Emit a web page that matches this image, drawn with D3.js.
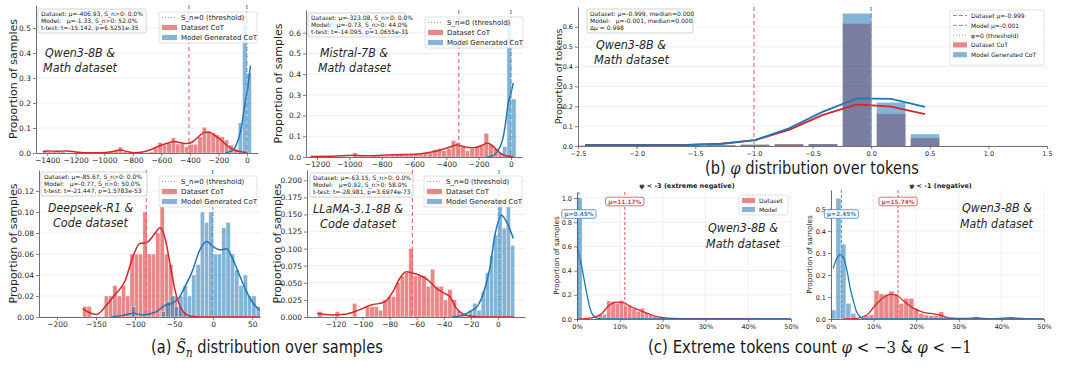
<!DOCTYPE html>
<html>
<head>
<meta charset="utf-8">
<script src="https://cdn.jsdelivr.net/npm/d3@7"></script>
<style>
  body { margin: 0; background: #fff; }
  svg text { font-family: "DejaVu Sans", sans-serif; }
</style>
</head>
<body>
<svg id="fig" width="1080" height="373"></svg>
<script>
// ---------- (a) S_n distributions : histogram bins (start, width, heights) + kde points ----------
const qwenRedStart = -1430, qwenRedBin = 31;
const qwenRed = [0.01, 0.005, 0.005, 0.007, 0.007, 0, 0, 0, 0, 0, 0, 0, 0, 0, 0, 0.005, 0.01, 0.024, 0.005, 0,
  0, 0, 0, 0.003, 0.005, 0.02, 0.043, 0.032, 0.04, 0.061, 0.036, 0.04, 0.025, 0.035, 0.035, 0.065, 0.103, 0.085,
  0.08, 0.072, 0.065, 0.052, 0.032, 0.015, 0.008];
const qwenBlueStart = -62, qwenBlueBin = 31;
const qwenBlue = [0.12, 0.55, 0.32];
const qwenRedKde = [[-1430, 0.006], [-1400, 0.008], [-1330, 0.007], [-1262, 0.008], [-1200, 0.004], [-1145, 0.001],
  [-1028, 0.001], [-940, 0.006], [-887, 0.012], [-840, 0.006], [-793, 0.001], [-722, 0.005], [-680, 0.012],
  [-628, 0.025], [-558, 0.039], [-511, 0.046], [-464, 0.041], [-420, 0.038], [-380, 0.045], [-340, 0.065],
  [-300, 0.082], [-270, 0.084], [-230, 0.072], [-183, 0.052], [-136, 0.028], [-89, 0.012], [-42, 0.005], [5, 0.002]];
const qwenBlueKde = [[-150, 0], [-136, 0.003], [-110, 0.008], [-89, 0.018], [-61, 0.055], [-40, 0.1], [-23, 0.165],
  [-7, 0.22], [5, 0.26], [24, 0.35]];
const qwenMeans = [-406.93, -1.33];
const qwenStats = ['Dataset: μ=-406.93, S_n>0: 0.0%', 'Model:   μ=-1.33, S_n>0: 52.0%', 't-test: t=-15.142, p=6.5251e-35'];

const mistralRedStart = -1240, mistralRedBin = 29;
const mistralRed = [0.005, 0, 0, 0, 0, 0, 0, 0, 0, 0.02, 0.005, 0, 0, 0.005, 0.01, 0.005, 0.005, 0.01, 0.015, 0.015,
  0.01, 0.01, 0.015, 0.015, 0.02, 0.02, 0.035, 0.04, 0.03, 0.04, 0.08, 0.07, 0.05, 0.03, 0.04, 0.05, 0.06, 0.115,
  0.06, 0.04, 0.02, 0.005, 0];
const mistralBlueStart = -53, mistralBlueBin = 28;
const mistralBlue = [0.05, 0.66, 0.28];
const mistralRedKde = [[-1240, 0.003], [-1100, 0.004], [-983, 0.008], [-905, 0.006], [-800, 0.008], [-698, 0.011],
  [-574, 0.015], [-492, 0.024], [-430, 0.035], [-378, 0.048], [-337, 0.058], [-300, 0.052], [-260, 0.046],
  [-233, 0.045], [-182, 0.055], [-145, 0.068], [-109, 0.05], [-78, 0.026], [-37, 0.007], [14, 0.002]];
const mistralBlueKde = [[-150, 0], [-120, 0.004], [-99, 0.013], [-68, 0.048], [-50, 0.09], [-37, 0.145], [-17, 0.26],
  [0, 0.31], [14, 0.358]];
const mistralMeans = [-323.08, -0.73];
const mistralStats = ['Dataset: μ=-323.08, S_n>0: 0.0%', 'Model:   μ=-0.73, S_n>0: 44.0%', 't-test: t=-14.095, p=1.0655e-31'];

const deepseekRedStart = -167, deepseekRedBin = 5.5;
const deepseekRed = [0.01, 0.01, 0, 0, 0, 0.02, 0.02, 0.03, 0.02, 0.03, 0.02, 0.06, 0.06, 0.06, 0.10, 0.06, 0.06,
  0.08, 0.105, 0.06, 0.05, 0.02, 0.01, 0.005];
const deepseekBlueStart = -104.5, deepseekBlueBin = 5.5;
const deepseekBlue = [0.01, 0, 0, 0, 0, 0, 0, 0.005, 0.015, 0.02, 0.01, 0.02, 0.03, 0.02, 0.04, 0.05, 0.10, 0.09,
  0.10, 0.06, 0.06, 0.085, 0.09, 0.06, 0.045, 0.03, 0.04, 0.02, 0.02, 0.01];
const deepseekRedKde = [[-167, 0.008], [-158, 0.004], [-149, 0.0025], [-138, 0.01], [-126, 0.021], [-113, 0.034],
  [-102, 0.059], [-94, 0.07], [-85, 0.071], [-76, 0.078], [-68, 0.085], [-62, 0.076], [-55, 0.05], [-49, 0.026],
  [-40, 0.007], [-30, 0.001], [-15, 0], [60, 0]];
const deepseekBlueKde = [[-130, 0], [-113, 0.002], [-102, 0.0035], [-91, 0.002], [-74, 0.0045], [-62, 0.011],
  [-53, 0.013], [-44, 0.018], [-36, 0.029], [-27, 0.043], [-17, 0.064], [-8, 0.072], [0, 0.067], [9, 0.064],
  [17.5, 0.065], [24, 0.057], [32, 0.043], [41, 0.027], [49.5, 0.015], [60, 0.006]];
const deepseekMeans = [-85.67, -0.77];
const deepseekStats = ['Dataset: μ=-85.67, S_n>0: 0.0%', 'Model:   μ=-0.77, S_n>0: 50.0%', 't-test: t=-21.447, p=1.5783e-53'];

const llamaRedStart = -133, llamaRedBin = 3.2;
const llamaRed = [0.008, 0, 0, 0, 0.008, 0, 0, 0, 0.02, 0, 0, 0.015, 0.015, 0.015, 0.01, 0.025, 0.03, 0.03, 0.05,
  0.06, 0.065, 0.1, 0.06, 0.06, 0.06, 0.045, 0.07, 0.045, 0.045, 0.025, 0.04, 0.025, 0.01, 0.005];
const llamaBlueStart = -21.7, llamaBlueBin = 3.1;
const llamaBlue = [0.01, 0.02, 0.01, 0.037, 0.065, 0.09, 0.12, 0.17, 0.13, 0.17, 0.105];
const llamaRedKde = [[-133.6, 0.005], [-123, 0.003], [-113, 0.004], [-103, 0.01], [-93.6, 0.0175], [-83.7, 0.022],
  [-77.5, 0.037], [-72.6, 0.056], [-67.7, 0.066], [-62.7, 0.064], [-57.8, 0.061], [-51.6, 0.054], [-45.4, 0.042],
  [-39.3, 0.0345], [-35.6, 0.03], [-30.6, 0.0126], [-25.7, 0.004], [-19.5, 0.001], [-12, 0], [12, 0]];
const llamaBlueKde = [[-34, 0], [-27, 0.002], [-20.7, 0.008], [-14.6, 0.0175], [-9.6, 0.042], [-6, 0.071],
  [-2.2, 0.12], [2.7, 0.149], [6.4, 0.139], [11.4, 0.115]];
const llamaMeans = [-63.15, 0.92];
const llamaStats = ['Dataset: μ=-63.15, S_n>0: 0.0%', 'Model:   μ=0.92, S_n>0: 58.0%', 't-test: t=-28.981, p=3.6974e-73'];

// ---------- (b) phi over tokens ----------
const phiCenters = [-2.44, -2.15, -1.86, -1.57, -1.28, -0.99, -0.70, -0.41, -0.12, 0.17, 0.46];
const phiBarWidth = 0.245;
const phiRedBars = [0.001, 0.001, 0.002, 0.002, 0.004, 0.007, 0.01, 0.01, 0.616, 0.162, 0.039];
const phiBlueBars = [0.001, 0.001, 0.001, 0.002, 0.003, 0.006, 0.008, 0.01, 0.667, 0.219, 0.059];
const phiRedLine = [0.005, 0.005, 0.005, 0.006, 0.012, 0.03, 0.081, 0.157, 0.21, 0.198, 0.16];
const phiBlueLine = [0.004, 0.004, 0.004, 0.005, 0.01, 0.03, 0.089, 0.173, 0.24, 0.237, 0.197];
const phiMeans = [-0.999, -0.001];
const phiStats = ['Dataset: μ=-0.999, median=0.000', 'Model:   μ=-0.001, median=0.000', 'Δμ = 0.998'];

// ---------- (c) extreme token share per sample ----------
const ext3RedStart = 0.05, ext3RedBin = 0.0098;
const ext3Red = [0.04, 0.04, 0.15, 0.145, 0.13, 0.155, 0.115, 0.11, 0.09, 0.065, 0.09, 0.05, 0.04, 0.025, 0.015,
  0.01, 0.01, 0.005, 0.005, 0.005, 0.003];
const ext3BlueStart = 0, ext3BlueBin = 0.012;
const ext3Blue = [1.0];
const ext3RedKde = [[0.003, 0], [0.034, 0.01], [0.058, 0.045], [0.073, 0.107], [0.093, 0.14], [0.108, 0.135],
  [0.128, 0.099], [0.147, 0.072], [0.167, 0.044], [0.19, 0.017], [0.213, 0.006], [0.25, 0.003], [0.284, 0.002],
  [0.32, 0.002], [0.348, 0.003], [0.4, 0.002], [0.45, 0.001], [0.5, 0]];
const ext3BlueKde = [[0, 0.598], [0.01, 0.45], [0.022, 0.226], [0.03, 0.094], [0.037, 0.033], [0.049, 0.006],
  [0.065, 0], [0.5, 0]];
const ext3Means = [0.1117, 0.0045];

const ext1RedStart = 0.0776, ext1RedBin = 0.0117;
const ext1Red = [0.015, 0.02, 0.129, 0.114, 0.112, 0.127, 0.114, 0.071, 0.094, 0.094, 0.048, 0.026, 0.018, 0.015,
  0.015, 0.033, 0.011, 0.008, 0.005, 0, 0, 0, 0.01, 0, 0, 0, 0, 0, 0, 0.01];
const ext1BlueStart = 0, ext1BlueBin = 0.0117;
const ext1Blue = [0.041, 0.549, 0.34, 0.071, 0.026];
const ext1RedKde = [[0.029, 0], [0.06, 0.003], [0.084, 0.018], [0.103, 0.06], [0.123, 0.098], [0.139, 0.112],
  [0.155, 0.106], [0.174, 0.076], [0.194, 0.048], [0.217, 0.03], [0.241, 0.023], [0.26, 0.015], [0.28, 0.004],
  [0.319, 0.003], [0.342, 0.005], [0.374, 0.001], [0.417, 0.005], [0.476, 0], [0.5, 0]];
const ext1BlueKde = [[0.005, 0.23], [0.014, 0.276], [0.022, 0.292], [0.03, 0.276], [0.038, 0.215], [0.045, 0.14],
  [0.053, 0.079], [0.06, 0.033], [0.068, 0.011], [0.08, 0], [0.5, 0]];
const ext1Means = [0.1574, 0.0245];

// tick values
const qwenXTicks = [-1400, -1200, -1000, -800, -600, -400, -200, 0];
const qwenYTicks = [0, 0.1, 0.2, 0.3, 0.4, 0.5];
const mistralXTicks = [-1200, -1000, -800, -600, -400, -200, 0];
const mistralYTicks = [0, 0.1, 0.2, 0.3, 0.4, 0.5, 0.6];
const deepseekXTicks = [-200, -150, -100, -50, 0, 50];
const deepseekYTicks = [0, 0.02, 0.04, 0.06, 0.08, 0.10, 0.12];
const llamaXTicks = [-120, -100, -80, -60, -40, -20, 0];
const llamaYTicks = [0, 0.025, 0.05, 0.075, 0.1, 0.125, 0.15, 0.175, 0.2];
const phiXTicks = [-2.5, -2.0, -1.5, -1.0, -0.5, 0.0, 0.5, 1.0, 1.5];
const phiYTicks = [0, 0.1, 0.2, 0.3, 0.4, 0.5, 0.6];
const extXTicks = [0, 0.1, 0.2, 0.3, 0.4, 0.5];
const ext3YTicks = [0, 0.2, 0.4, 0.6, 0.8, 1.0];
const ext1YTicks = [0, 0.1, 0.2, 0.3, 0.4, 0.5];

const RED = '#d62728', BLUE = '#1f77b4';
const RED_DASH = '#e4676a', BLUE_DASH = '#5b9dd3';

const svg = d3.select('#fig');
let clipN = 0;

function setup(o) {
  const x = d3.scaleLinear().domain(o.xdom).range([o.x0, o.x1]);
  const y = d3.scaleLinear().domain(o.ydom).range([o.y1, o.y0]);
  const g = svg.append('g');
  g.selectAll('line.hg').data(o.yticks).join('line').attr('class', 'hg')
    .attr('x1', o.x0).attr('x2', o.x1).attr('y1', d => y(d)).attr('y2', d => y(d))
    .attr('stroke', '#e8e8e8').attr('stroke-width', 0.7);
  if (o.vgrid) {
    g.selectAll('line.vg').data(o.xticks).join('line').attr('class', 'vg')
      .attr('x1', d => x(d)).attr('x2', d => x(d)).attr('y1', o.y0).attr('y2', o.y1)
      .attr('stroke', '#e8e8e8').attr('stroke-width', 0.7);
  }
  const id = 'clip' + (clipN++);
  svg.append('clipPath').attr('id', id).append('rect')
    .attr('x', o.x0).attr('y', o.y0 - 1).attr('width', o.x1 - o.x0).attr('height', o.y1 - o.y0 + 1);
  const plot = g.append('g').attr('clip-path', `url(#${id})`);
  return { x, y, g, plot, o };
}

function bars(p, start, w, vals, color) {
  p.plot.append('g').selectAll('rect')
    .data(vals.map((v, i) => ({ x: start + i * w, v })).filter(d => d.v > 0))
    .join('rect')
    .attr('x', d => p.x(d.x)).attr('width', d => p.x(d.x + w) - p.x(d.x))
    .attr('y', d => p.y(d.v)).attr('height', d => p.y(0) - p.y(d.v))
    .attr('fill', color).attr('fill-opacity', 0.55)
    .attr('stroke', '#fff').attr('stroke-width', 0.4);
}

function curve(p, pts, color, w, kind) {
  p.plot.append('path').datum(pts)
    .attr('d', d3.line().x(d => p.x(d[0])).y(d => p.y(d[1])).curve(kind || d3.curveMonotoneX))
    .attr('fill', 'none').attr('stroke', color).attr('stroke-width', w).attr('stroke-linejoin', 'round');
}

function vline(p, v, color, dash, w) {
  p.plot.append('line').attr('x1', p.x(v)).attr('x2', p.x(v)).attr('y1', p.o.y0).attr('y2', p.o.y1)
    .attr('stroke', color).attr('stroke-dasharray', dash).attr('stroke-width', w);
}

function axes(p) {
  const { x, y, o } = p;
  const bx = svg.append('g').attr('transform', `translate(0,${o.y1})`)
    .call(d3.axisBottom(x).tickValues(o.xticks).tickFormat(o.xfmt).tickSize(3).tickSizeOuter(0).tickPadding(2));
  const by = svg.append('g').attr('transform', `translate(${o.x0},0)`)
    .call(d3.axisLeft(y).tickValues(o.yticks).tickFormat(o.yfmt).tickSize(3).tickSizeOuter(0).tickPadding(2));
  [bx, by].forEach(a => {
    a.attr('font-family', '"DejaVu Sans", sans-serif').attr('font-size', o.tfs);
    a.select('.domain').attr('stroke', '#4d4d4d').attr('stroke-width', 0.8);
    a.selectAll('.tick line').attr('stroke', '#4d4d4d').attr('stroke-width', 0.7);
    a.selectAll('.tick text').attr('fill', '#262626');
  });
  svg.append('text')
    .attr('transform', `translate(${o.ylx},${(o.y0 + o.y1) / 2}) rotate(-90)`)
    .attr('text-anchor', 'middle').attr('dominant-baseline', 'central')
    .attr('font-size', o.ylfs).attr('fill', '#262626').text(o.ylabel);
}

function statsBox(x, y, w, h, lines, bases) {
  const g = svg.append('g');
  g.append('rect').attr('x', x).attr('y', y).attr('width', w).attr('height', h).attr('rx', 2)
    .attr('fill', '#fff').attr('fill-opacity', 0.9).attr('stroke', '#b5b5b5').attr('stroke-width', 0.6);
  g.selectAll('text').data(lines).join('text')
    .attr('x', x + 3).attr('y', (d, i) => bases[i])
    .attr('font-size', 6).attr('fill', '#1a1a1a').style('white-space', 'pre').text(d => d);
}

function legend(x, y, w, h, rows, fs) {
  const g = svg.append('g');
  g.append('rect').attr('x', x).attr('y', y).attr('width', w).attr('height', h).attr('rx', 2)
    .attr('fill', '#fff').attr('fill-opacity', 0.85).attr('stroke', '#d4d4d4').attr('stroke-width', 0.7);
  rows.forEach(r => {
    if (r.kind === 'patch') {
      g.append('rect').attr('x', x + 3).attr('y', r.y - 2.6).attr('width', r.hw).attr('height', 5.2)
        .attr('fill', r.color).attr('fill-opacity', 0.55);
    } else {
      g.append('line').attr('x1', x + 3).attr('x2', x + 3 + r.hw).attr('y1', r.y).attr('y2', r.y)
        .attr('stroke', r.color).attr('stroke-width', 1).attr('stroke-dasharray', r.dash);
    }
    g.append('text').attr('x', x + r.hw + 7).attr('y', r.y).attr('dominant-baseline', 'central')
      .attr('font-size', fs).attr('fill', '#1a1a1a').text(r.label);
  });
}

// model/dataset tag: each line is fitted to the width it has in the figure
function title(lines) {
  lines.forEach(l => {
    const t = svg.append('text')
      .attr('font-family', '"Open Sans", Inter, sans-serif').attr('font-style', 'italic')
      .attr('font-size', 13).attr('fill', '#262626').text(l[2]);
    const w = t.node().getComputedTextLength();
    t.attr('transform', `translate(${l[0]},${l[1]}) scale(${l[3] / w},1)`);
  });
}

function muLabel(p, v, yc, text, color) {
  const g = svg.append('g');
  const t = g.append('text').attr('x', p.x(v)).attr('y', yc).attr('text-anchor', 'middle')
    .attr('dominant-baseline', 'central').attr('font-size', 5.8).attr('font-weight', 'bold')
    .attr('fill', color).text(text);
  const w = t.node().getComputedTextLength() + 5;
  g.insert('rect', 'text').attr('x', p.x(v) - w / 2).attr('y', yc - 4.3).attr('width', w).attr('height', 8.6)
    .attr('rx', 2).attr('fill', '#fff').attr('stroke', color).attr('stroke-width', 0.8);
}

function caption(cx, base, width, parts) {
  const t = svg.append('text').attr('font-family', 'Inter, "Noto Sans", sans-serif')
    .attr('font-size', 17).attr('fill', '#1a1a1a');
  let shift = 0;
  parts.forEach(pp => {
    const s = t.append('tspan').text(pp.t);
    if (pp.math) s.attr('font-family', '"DejaVu Serif", serif').attr('font-style', pp.up ? 'normal' : 'italic');
    if (pp.sub) { s.attr('font-size', 12).attr('dy', 4); shift = 4; }
    else if (shift) { s.attr('dy', -shift); shift = 0; }
  });
  const bw = t.node().getComputedTextLength();
  t.attr('transform', `translate(${cx - width / 2},${base}) scale(${width / bw},1)`);
}

// ---------- (a) panels ----------
const fInt = d3.format('d');
function histPanel(o, d) {
  const p = setup(o);
  bars(p, d.redStart, d.redBin, d.red, RED);
  bars(p, d.blueStart, d.blueBin, d.blue, BLUE);
  curve(p, d.redKde, RED, 1.5);
  curve(p, d.blueKde, BLUE, 1.5);
  vline(p, 0, '#9a9a9a', '1,2', 0.9);
  vline(p, d.means[0], RED_DASH, '4,3', 1.1);
  vline(p, d.means[1], BLUE_DASH, '4,3', 1.1);
  axes(p);
  return p;
}
const aRows = ys => [
  { kind: 'line', color: '#9a9a9a', dash: '1,2', hw: 15, y: ys[0], label: 'S_n=0 (threshold)' },
  { kind: 'patch', color: RED, hw: 15, y: ys[1], label: 'Dataset CoT' },
  { kind: 'patch', color: BLUE, hw: 15, y: ys[2], label: 'Model Generated CoT' }
];

histPanel({ x0: 36, x1: 258, y0: 5, y1: 153, xdom: [-1478, 77], ydom: [0, 0.592],
  xticks: qwenXTicks, yticks: qwenYTicks, xfmt: fInt, yfmt: d3.format('.1f'), tfs: 7.5,
  ylabel: 'Proportion of samples', ylx: 13, ylfs: 11 },
  { redStart: qwenRedStart, redBin: qwenRedBin, red: qwenRed, blueStart: qwenBlueStart, blueBin: qwenBlueBin,
    blue: qwenBlue, redKde: qwenRedKde, blueKde: qwenBlueKde, means: qwenMeans });
statsBox(38, 9, 108, 24, qwenStats, [15.5, 22.5, 29.5]);
legend(159, 12, 98, 31, aRows([17.5, 27.5, 37.5]), 7);
title([[45, 57, 'Qwen3-8B &', 70], [43, 72, 'Math dataset', 74]]);

histPanel({ x0: 306, x1: 522, y0: 10, y1: 157, xdom: [-1268, 68], ydom: [0, 0.71],
  xticks: mistralXTicks, yticks: mistralYTicks, xfmt: fInt, yfmt: d3.format('.1f'), tfs: 7.5,
  ylabel: 'Proportion of samples', ylx: 278, ylfs: 11 },
  { redStart: mistralRedStart, redBin: mistralRedBin, red: mistralRed, blueStart: mistralBlueStart,
    blueBin: mistralBlueBin, blue: mistralBlue, redKde: mistralRedKde, blueKde: mistralBlueKde, means: mistralMeans });
statsBox(308, 13, 98, 24, mistralStats, [19.5, 26.5, 33.5]);
legend(425, 17, 98, 31, aRows([22.5, 32.5, 42.5]), 7);
title([[320, 57, 'Mistral-7B &', 68], [318, 72, 'Math dataset', 73]]);

histPanel({ x0: 39, x1: 260, y0: 170, y1: 317, xdom: [-223, 60], ydom: [0, 0.14],
  xticks: deepseekXTicks, yticks: deepseekYTicks, xfmt: fInt, yfmt: d3.format('.2f'), tfs: 7.5,
  ylabel: 'Proportion of samples', ylx: 13, ylfs: 11 },
  { redStart: deepseekRedStart, redBin: deepseekRedBin, red: deepseekRed, blueStart: deepseekBlueStart,
    blueBin: deepseekBlueBin, blue: deepseekBlue, redKde: deepseekRedKde, blueKde: deepseekBlueKde, means: deepseekMeans });
statsBox(41, 172, 106, 24, deepseekStats, [179, 186, 193]);
legend(159, 176, 98, 31, aRows([181.5, 191.5, 201.5]), 7);
title([[48, 212, 'Deepseek-R1 &', 85], [53, 227, 'Code dataset', 75]]);

histPanel({ x0: 307, x1: 525, y0: 170, y1: 317, xdom: [-141, 20], ydom: [0, 0.215],
  xticks: llamaXTicks, yticks: llamaYTicks, xfmt: fInt, yfmt: d3.format('.3f'), tfs: 7.5,
  ylabel: 'Proportion of samples', ylx: 277, ylfs: 11 },
  { redStart: llamaRedStart, redBin: llamaRedBin, red: llamaRed, blueStart: llamaBlueStart, blueBin: llamaBlueBin,
    blue: llamaBlue, redKde: llamaRedKde, blueKde: llamaBlueKde, means: llamaMeans });
statsBox(310, 173, 103, 24, llamaStats, [180, 187, 194]);
legend(424, 176, 98, 31, aRows([181.5, 191.5, 201.5]), 7);
title([[313, 213, 'LLaMA-3.1-8B &', 90], [320, 228, 'Code dataset', 76]]);

// ---------- (b) panel ----------
(function () {
  const p = setup({ x0: 578, x1: 1047, y0: 7, y1: 146, xdom: [-2.5, 1.5], ydom: [0, 0.70],
    xticks: phiXTicks, yticks: phiYTicks });
  const mk = vals => phiCenters.map((c, i) => ({ c, v: vals[i] }));
  [[phiRedBars, RED], [phiBlueBars, BLUE]].forEach(([vals, col]) => {
    p.plot.append('g').selectAll('rect').data(mk(vals)).join('rect')
      .attr('x', d => p.x(d.c - phiBarWidth / 2)).attr('width', d => p.x(d.c + phiBarWidth / 2) - p.x(d.c - phiBarWidth / 2))
      .attr('y', d => p.y(d.v)).attr('height', d => p.y(0) - p.y(d.v))
      .attr('fill', col).attr('fill-opacity', 0.55);
  });
  curve(p, phiCenters.map((c, i) => [c, phiRedLine[i]]), RED, 1.8, d3.curveLinear);
  curve(p, phiCenters.map((c, i) => [c, phiBlueLine[i]]), BLUE, 1.8, d3.curveLinear);
  vline(p, 0, '#9a9a9a', '1,2', 0.9);
  vline(p, phiMeans[0], RED_DASH, '4,3', 1.1);
  vline(p, phiMeans[1], BLUE_DASH, '4,3', 1.1);
  p.o.xfmt = d3.format('.1f'); p.o.yfmt = d3.format('.1f'); p.o.tfs = 6.5;
  p.o.ylabel = 'Proportion of tokens'; p.o.ylx = 558; p.o.ylfs = 9.5;
  axes(p);
  statsBox(587, 9, 106, 24, phiStats, [15.5, 22.5, 29.5]);
  legend(950, 10, 94, 55, [
    { kind: 'line', color: RED_DASH, dash: '4,2', hw: 14, y: 15.5, label: 'Dataset μ=-0.999' },
    { kind: 'line', color: BLUE_DASH, dash: '4,2', hw: 14, y: 25.3, label: 'Model μ=-0.001' },
    { kind: 'line', color: '#9a9a9a', dash: '1,2', hw: 14, y: 35.1, label: 'φ=0 (threshold)' },
    { kind: 'patch', color: RED, hw: 14, y: 44.9, label: 'Dataset CoT' },
    { kind: 'patch', color: BLUE, hw: 14, y: 54.7, label: 'Model Generated CoT' }
  ], 6);
  title([[596, 49, 'Qwen3-8B &', 70], [594, 64, 'Math dataset', 75]]);
})();

// ---------- (c) panels ----------
function extPanel(o, d) {
  const p = setup(Object.assign({ vgrid: true, xfmt: d3.format('.0%'), yfmt: d3.format('.1f'), tfs: 6.5,
    ylabel: 'Proportion of samples', ylfs: 7.2 }, o));
  bars(p, d.redStart, d.redBin, d.red, RED);
  bars(p, d.blueStart, d.blueBin, d.blue, BLUE);
  curve(p, d.redKde, RED, 1.3);
  curve(p, d.blueKde, BLUE, 1.3);
  vline(p, d.means[0], RED_DASH, '3,2', 1.1);
  vline(p, d.means[1], BLUE_DASH, '3,2', 1.1);
  axes(p);
  muLabel(p, d.means[1], 214, 'μ=' + (d.means[1] * 100).toFixed(2) + '%', '#3d83c2');
  muLabel(p, d.means[0], 201.5, 'μ=' + (d.means[0] * 100).toFixed(2) + '%', '#d84a4c');
  svg.append('text').attr('x', (o.x0 + o.x1) / 2 + 3).attr('y', 188).attr('text-anchor', 'middle')
    .attr('font-size', 6.5).attr('font-weight', 'bold').attr('fill', '#1a1a1a').text(o.head);
  return p;
}

extPanel({ x0: 577, x1: 791, y0: 192, y1: 319, xdom: [0, 0.5], ydom: [0, 1.05], xticks: extXTicks,
  yticks: ext3YTicks, ylx: 556, head: 'φ < -3 (extreme negative)' },
  { redStart: ext3RedStart, redBin: ext3RedBin, red: ext3Red, blueStart: ext3BlueStart, blueBin: ext3BlueBin,
    blue: ext3Blue, redKde: ext3RedKde, blueKde: ext3BlueKde, means: ext3Means });
legend(739, 195, 49, 20, [
  { kind: 'patch', color: RED, hw: 13, y: 200.5, label: 'Dataset' },
  { kind: 'patch', color: BLUE, hw: 13, y: 209.5, label: 'Model' }
], 6);
title([[708, 232, 'Qwen3-8B &', 70], [706, 248, 'Math dataset', 74]]);

extPanel({ x0: 831, x1: 1044, y0: 190, y1: 319, xdom: [0, 0.5], ydom: [0, 0.586], xticks: extXTicks,
  yticks: ext1YTicks, ylx: 809, head: 'φ < -1 (negative)' },
  { redStart: ext1RedStart, redBin: ext1RedBin, red: ext1Red, blueStart: ext1BlueStart, blueBin: ext1BlueBin,
    blue: ext1Blue, redKde: ext1RedKde, blueKde: ext1BlueKde, means: ext1Means });
title([[962, 212, 'Qwen3-8B &', 70], [960, 228, 'Math dataset', 73]]);

// ---------- captions ----------
caption(267, 353, 232, [{ t: '(a) ' }, { t: 'S\u0303', math: true }, { t: 'n', math: true, sub: true },
  { t: ' distribution over samples' }]);
caption(812, 174, 214, [{ t: '(b) ' }, { t: 'φ', math: true }, { t: ' distribution over tokens' }]);
caption(810, 353, 324, [{ t: '(c) Extreme tokens count ' }, { t: 'φ', math: true }, { t: ' < −3 ', math: true, up: true },
  { t: '& ' }, { t: 'φ', math: true }, { t: ' < −1', math: true, up: true }]);
</script>
</body>
</html>
